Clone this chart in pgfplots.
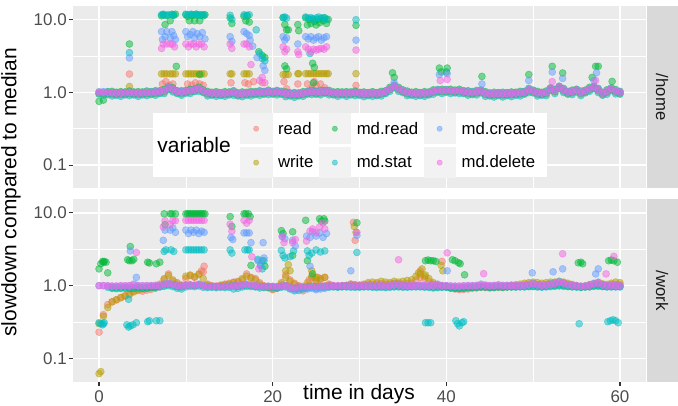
\documentclass[border=0pt]{standalone}
\usepackage{pgfplots}
\pgfplotsset{compat=1.18}
\usepackage{pgfplotstable}
\usepackage{fontspec}
\setmainfont{Liberation Sans}

\definecolor{cRead}{HTML}{F8766D}
\definecolor{cWrite}{HTML}{B79F00}
\definecolor{cMdRead}{HTML}{00BA38}
\definecolor{cMdStat}{HTML}{00BFC4}
\definecolor{cMdCreate}{HTML}{619CFF}
\definecolor{cMdDelete}{HTML}{F564E3}
\definecolor{panelbg}{HTML}{EBEBEB}
\definecolor{stripbg}{HTML}{D9D9D9}
\definecolor{keybg}{HTML}{F2F2F2}
\definecolor{ticktext}{HTML}{4D4D4D}
\definecolor{tickline}{HTML}{333333}
\definecolor{striptext}{HTML}{1A1A1A}

% baseline measurements, one row every half day
\pgfplotstableread{
x rd wr mr ms mc md
0 0.98 0.96 0.75 0.94 1.02 1.00
0.5 0.98 0.96 0.78 0.91 1.02 1.00
1 0.97 0.95 1.02 0.93 1.01 0.99
1.5 0.96 0.94 1.03 0.89 1.00 0.98
2 0.95 0.93 1.00 0.91 0.99 0.97
2.5 0.95 0.93 1.02 0.88 0.99 0.97
3 0.96 0.94 1.01 0.92 1.00 0.98
3.5 0.97 0.95 1.04 0.90 1.01 0.99
4 0.96 0.94 1.01 0.92 1.00 0.98
4.5 0.95 0.93 1.02 0.88 0.99 0.97
5 0.96 0.94 1.01 0.92 1.00 0.98
5.5 0.97 0.95 1.04 0.90 1.01 0.99
6 0.97 0.95 1.02 0.93 1.01 0.99
6.5 0.98 0.96 1.05 0.91 1.02 1.00
7 1.00 0.98 1.05 0.96 1.04 1.02
7.5 1.03 1.01 1.10 0.96 1.07 1.05
8 1.13 1.11 1.18 1.09 1.17 1.15
8.5 1.08 1.06 1.15 1.01 1.12 1.10
9 1.00 0.98 1.05 0.96 1.04 1.02
9.5 0.98 0.96 1.05 0.91 1.02 1.00
10 1.01 0.99 1.06 0.97 1.05 1.03
10.5 1.03 1.01 1.10 0.96 1.07 1.05
11 1.06 1.04 1.11 1.02 1.10 1.08
11.5 1.10 1.08 1.17 1.03 1.14 1.12
12 1.03 1.01 1.08 0.99 1.07 1.05
12.5 0.96 0.94 1.03 0.89 1.00 0.98
13 0.95 0.93 1.00 0.91 0.99 0.97
13.5 0.95 0.93 1.02 0.88 0.99 0.97
14 0.94 0.92 0.99 0.90 0.98 0.96
14.5 0.95 0.93 1.02 0.88 0.99 0.97
15 0.96 0.94 1.01 0.92 1.00 0.98
15.5 0.98 0.96 1.05 0.91 1.02 1.00
16 0.93 0.91 0.98 0.89 0.97 0.95
16.5 0.94 0.92 1.01 0.87 0.98 0.96
17 0.95 0.93 1.00 0.91 0.99 0.97
17.5 0.96 0.94 1.03 0.89 1.00 0.98
18 0.97 0.95 1.02 0.93 1.01 0.99
18.5 0.98 0.96 1.05 0.91 1.02 1.00
19 0.98 0.96 1.03 0.94 1.02 1.00
19.5 1.00 0.98 1.07 0.93 1.04 1.02
20 0.98 0.96 1.03 0.94 1.02 1.00
20.5 0.99 0.97 1.06 0.92 1.03 1.01
21 0.98 0.96 1.03 0.94 1.02 1.00
21.5 0.94 0.92 1.01 0.87 0.98 0.96
22 0.93 0.91 0.98 0.89 0.97 0.95
22.5 0.92 0.90 0.99 0.85 0.96 0.94
23 0.93 0.91 0.98 0.89 0.97 0.95
23.5 0.95 0.93 1.02 0.88 0.99 0.97
24 0.98 0.96 1.03 0.94 1.02 1.00
24.5 1.00 0.98 1.07 0.93 1.04 1.02
25 0.98 0.96 1.03 0.94 1.02 1.00
25.5 0.99 0.97 1.06 0.92 1.03 1.01
26 1.01 0.99 1.06 0.97 1.05 1.03
26.5 0.99 0.97 1.06 0.92 1.03 1.01
27 0.96 0.94 1.01 0.92 1.00 0.98
27.5 0.95 0.93 1.02 0.88 0.99 0.97
28 0.96 0.94 1.01 0.92 1.00 0.98
28.5 0.95 0.93 1.02 0.88 0.99 0.97
29 0.96 0.94 1.01 0.92 1.00 0.98
29.5 0.97 0.95 1.04 0.90 1.01 0.99
30 0.95 0.93 1.00 0.91 0.99 0.97
30.5 0.94 0.92 1.01 0.87 0.98 0.96
31 0.94 0.92 0.99 0.90 0.98 0.96
31.5 0.95 0.93 1.02 0.88 0.99 0.97
32 0.94 0.92 0.99 0.90 0.98 0.96
32.5 0.96 0.94 1.03 0.89 1.00 0.98
33 1.00 0.98 1.05 0.96 1.04 1.02
33.5 1.10 1.08 1.17 1.03 1.14 1.12
34 1.20 1.18 1.25 1.16 1.24 1.22
34.5 1.10 1.08 1.17 1.03 1.14 1.12
35 1.03 1.01 1.08 0.99 1.07 1.05
35.5 0.97 0.95 1.04 0.90 1.01 0.99
36 0.95 0.93 1.00 0.91 0.99 0.97
36.5 0.95 0.93 1.02 0.88 0.99 0.97
37 0.94 0.92 0.99 0.90 0.98 0.96
37.5 0.95 0.93 1.02 0.88 0.99 0.97
38 0.96 0.94 1.01 0.92 1.00 0.98
38.5 1.01 0.99 1.08 0.94 1.05 1.03
39 1.04 1.02 1.09 1.00 1.08 1.06
39.5 1.03 1.01 1.10 0.96 1.07 1.05
40 1.04 1.02 1.09 1.00 1.08 1.06
40.5 1.03 1.01 1.10 0.96 1.07 1.05
41 1.02 1.00 1.07 0.98 1.06 1.04
41.5 1.03 1.01 1.10 0.96 1.07 1.05
42 1.00 0.98 1.05 0.96 1.04 1.02
42.5 0.98 0.96 1.05 0.91 1.02 1.00
43 0.97 0.95 1.02 0.93 1.01 0.99
43.5 0.99 0.97 1.06 0.92 1.03 1.01
44 1.02 1.00 1.07 0.98 1.06 1.04
44.5 0.95 0.93 1.02 0.88 0.99 0.97
45 0.93 0.91 0.98 0.89 0.97 0.95
45.5 0.93 0.91 1.00 0.86 0.97 0.95
46 0.94 0.92 0.99 0.90 0.98 0.96
46.5 0.93 0.91 1.00 0.86 0.97 0.95
47 0.94 0.92 0.99 0.90 0.98 0.96
47.5 0.94 0.92 1.01 0.87 0.98 0.96
48 0.95 0.93 1.00 0.91 0.99 0.97
48.5 0.96 0.94 1.03 0.89 1.00 0.98
49 0.98 0.96 1.03 0.94 1.02 1.00
49.5 1.06 1.04 1.13 0.99 1.10 1.08
50 1.02 1.00 1.07 0.98 1.06 1.04
50.5 0.96 0.94 1.03 0.89 1.00 0.98
51 0.95 0.93 1.00 0.91 0.99 0.97
51.5 0.97 0.95 1.04 0.90 1.01 0.99
52 1.10 1.08 1.15 1.06 1.14 1.12
52.5 1.03 1.01 1.10 0.96 1.07 1.05
53 1.16 1.14 1.21 1.12 1.20 1.18
53.5 1.06 1.04 1.13 0.99 1.10 1.08
54 0.98 0.96 1.03 0.94 1.02 1.00
54.5 1.00 0.98 1.07 0.93 1.04 1.02
55 1.05 1.03 1.10 1.01 1.09 1.07
55.5 0.97 0.95 1.04 0.90 1.01 0.99
56 1.02 1.00 1.07 0.98 1.06 1.04
56.5 1.10 1.08 1.17 1.03 1.14 1.12
57 1.16 1.14 1.21 1.12 1.20 1.18
57.5 1.06 1.04 1.13 0.99 1.10 1.08
58 0.95 0.93 1.00 0.91 0.99 0.97
58.5 1.01 0.99 1.08 0.94 1.05 1.03
59 1.10 1.08 1.15 1.06 1.14 1.12
59.5 1.02 1.00 1.09 0.95 1.06 1.04
60 0.98 0.96 1.03 0.94 1.02 1.00
}\tabHome

\pgfplotstableread{
x rd wr mr ms mc md
0 0.23 0.30 1.70 0.31 1.00 1.00
0.5 0.40 0.38 2.10 0.30 1.00 1.00
1 0.55 0.50 1.50 0.95 0.99 1.00
1.5 0.60 0.60 0.92 0.94 0.98 0.99
2 0.64 0.64 0.91 0.94 0.98 0.99
2.5 0.68 0.69 0.92 0.93 0.99 1.00
3 0.73 0.72 0.92 0.94 0.99 1.00
3.5 0.78 0.75 0.91 0.93 1.00 1.00
4 0.84 0.82 0.92 0.94 1.05 1.01
4.5 0.86 0.88 0.93 0.95 1.00 1.00
5 0.84 0.90 0.92 0.94 0.99 1.00
5.5 0.87 0.92 0.93 0.95 1.00 1.00
6 0.89 0.95 0.94 0.96 1.00 1.00
6.5 0.92 0.97 0.95 0.95 1.01 1.00
7 1.00 1.05 0.97 0.96 1.00 1.00
7.5 1.20 1.25 1.02 0.98 1.05 1.04
8 1.45 1.38 1.05 1.00 1.08 1.06
8.5 1.15 1.20 1.02 0.97 1.04 1.03
9 1.05 1.10 0.97 0.92 1.00 1.00
9.5 1.00 1.02 0.96 0.90 0.99 0.99
10 1.25 1.35 1.00 0.96 1.02 1.01
10.5 1.38 1.40 1.02 0.98 1.03 1.02
11 1.30 1.32 1.00 0.97 1.02 1.01
11.5 1.42 1.45 1.03 0.99 1.05 1.03
12 1.55 1.25 1.00 0.95 1.00 1.00
12.5 1.05 1.02 0.97 0.94 0.98 0.97
13 1.00 0.98 0.97 0.95 0.98 0.97
13.5 0.99 0.97 0.96 0.94 0.97 0.97
14 1.02 1.00 0.97 0.95 0.98 0.97
14.5 1.05 1.03 0.97 0.94 0.98 0.98
15 1.08 1.05 0.98 0.95 0.99 0.98
15.5 1.12 1.10 0.99 0.90 1.00 0.99
16 1.15 1.12 0.98 0.92 1.00 1.00
16.5 1.20 1.25 1.00 0.96 1.02 1.02
17 1.45 1.35 1.02 0.98 1.05 1.04
17.5 1.30 1.28 1.00 0.97 1.02 1.02
18 1.25 1.20 0.98 0.96 1.00 1.00
18.5 1.10 1.05 0.97 0.93 0.98 0.98
19 1.00 0.98 0.96 0.94 0.97 0.97
19.5 0.95 0.93 0.97 0.95 0.98 0.98
20 0.88 0.90 0.97 0.94 0.97 0.98
20.5 0.93 0.92 0.96 0.93 0.96 0.97
21 1.05 1.10 0.98 0.95 0.98 0.99
21.5 1.40 1.30 1.00 0.96 1.00 1.00
22 1.20 1.15 0.95 0.90 0.92 0.95
22.5 1.08 1.05 0.92 0.85 0.88 0.93
23 1.00 0.98 0.93 0.86 0.90 0.96
23.5 0.85 0.95 0.95 0.90 0.94 0.98
24 1.00 1.10 0.96 0.93 0.90 0.97
24.5 1.28 1.35 0.98 0.95 0.92 0.98
25 1.15 1.20 0.97 0.92 0.88 0.97
25.5 1.20 1.25 0.98 0.94 0.90 0.98
26 1.30 1.30 0.99 0.95 0.92 0.99
26.5 1.05 1.02 0.98 0.95 0.98 1.00
27 1.00 0.98 0.98 0.96 0.99 1.00
27.5 0.98 0.97 0.97 0.95 0.99 1.00
28 1.00 0.98 0.98 0.96 1.00 1.00
28.5 1.01 1.00 0.98 0.96 1.00 1.00
29 1.05 1.05 0.98 0.95 1.00 1.00
29.5 1.02 1.03 0.97 0.95 0.99 1.00
30 1.00 1.02 0.97 0.95 0.99 1.00
30.5 1.02 1.05 0.97 0.96 0.99 1.00
31 1.05 1.10 0.98 0.96 1.00 1.00
31.5 1.04 1.12 0.97 0.95 0.99 1.00
32 1.05 1.10 0.97 0.94 0.99 1.00
32.5 1.06 1.15 0.97 0.95 1.00 1.00
33 1.04 1.12 0.96 0.94 0.98 0.99
33.5 1.05 1.10 0.97 0.95 1.00 1.00
34 1.08 1.15 0.98 0.96 1.05 1.02
34.5 1.06 1.12 0.98 0.96 1.04 1.02
35 1.05 1.15 0.97 0.95 1.01 1.00
35.5 1.06 1.18 0.97 0.95 1.00 1.00
36 1.08 1.20 0.97 0.96 1.00 1.00
36.5 1.20 1.35 0.98 0.96 1.00 1.00
37 1.30 1.45 0.98 0.96 1.02 1.01
37.5 1.25 1.35 0.97 0.95 1.00 1.00
38 1.15 1.25 0.96 0.95 1.00 1.00
38.5 1.05 1.10 0.95 0.93 1.02 1.00
39 1.00 1.02 0.96 0.94 1.05 1.01
39.5 0.98 1.00 0.96 0.95 1.00 1.00
40 0.96 0.98 0.96 0.95 1.00 1.00
40.5 0.93 0.95 0.93 0.93 0.99 0.99
41 0.90 0.93 0.92 0.94 0.98 0.99
41.5 0.88 0.92 0.92 0.93 0.98 0.99
42 0.89 0.92 0.93 0.94 0.99 1.00
42.5 0.90 0.94 0.94 0.95 1.00 1.00
43 0.92 0.95 0.95 0.95 1.00 1.00
43.5 0.93 0.96 0.95 0.95 1.01 1.00
44 0.95 0.98 0.96 0.96 1.05 1.02
44.5 0.94 0.97 0.96 0.96 1.02 1.01
45 0.93 0.95 0.95 0.95 1.00 1.00
45.5 0.94 0.96 0.95 0.95 1.01 1.00
46 0.95 0.98 0.96 0.96 1.03 1.01
46.5 0.94 0.97 0.95 0.96 1.01 1.00
47 0.96 0.99 0.96 0.96 1.01 1.00
47.5 0.97 1.02 0.96 0.96 1.00 1.00
48 0.98 1.03 0.96 0.96 1.00 1.00
48.5 1.00 1.05 0.97 0.96 1.00 1.00
49 1.02 1.08 0.97 0.96 1.01 1.01
49.5 1.04 1.10 0.98 0.97 1.04 1.03
50 1.05 1.12 0.98 0.97 1.08 1.05
50.5 1.03 1.10 0.97 0.96 1.03 1.02
51 1.02 1.08 0.97 0.95 1.01 1.01
51.5 1.03 1.10 0.98 0.96 1.02 1.01
52 1.05 1.12 0.99 0.97 1.06 1.03
52.5 1.06 1.12 1.00 0.98 1.10 1.06
53 1.08 1.15 1.02 0.99 1.14 1.10
53.5 1.06 1.12 1.00 0.98 1.10 1.08
54 1.03 1.08 0.98 0.97 1.04 1.03
54.5 1.00 1.04 0.97 0.96 1.02 1.01
55 0.98 1.00 0.96 0.96 1.00 1.00
55.5 0.96 0.98 0.95 0.95 0.98 0.98
56 0.97 0.99 0.96 0.96 0.99 0.99
56.5 1.00 1.03 0.97 0.96 1.03 1.01
57 1.03 1.06 0.99 0.98 1.08 1.05
57.5 1.05 1.10 1.00 0.98 1.12 1.08
58 1.02 1.06 0.98 0.97 1.03 1.02
58.5 1.00 1.04 0.97 0.96 1.01 1.00
59 1.02 1.08 0.97 0.96 1.02 1.01
59.5 1.04 1.12 0.97 0.96 1.01 1.00
60 1.03 1.10 0.97 0.96 1.00 1.00
}\tabWork

\pgfplotsset{
  mypt/.style={only marks, mark=*, mark size=3.5bp, color=#1,
    mark options={opacity=0.5, line width=0.6bp}},
  mykey/.style={legend image code/.code={
    \fill[keybg, opacity=1] (-15.75bp,-15bp) rectangle (15.75bp,15bp);
    \draw[mark size=2.6bp] plot coordinates {(0bp,0bp)};}},
  mypanel/.style={
    scale only axis, width=573bp, height=182.3bp,
    xmin=-3, xmax=63, ymin=0.048, ymax=15.3,
    clip=false,
    axis line style={draw=none},
    axis background/.style={fill=panelbg},
    grid=both,
    major grid style={white, line width=1.4bp},
    minor grid style={white, line width=0.7bp},
    xtick={0,20,40,60}, xticklabels={0,20,40,60},
    minor xtick={10,30,50},
    ytick={0.1,1,10}, yticklabels={0.1,1.0,10.0},
    minor ytick={0.316228,3.16228},
    tick pos=left, tick align=outside,
    major tick length=4.5bp, minor tick length=0pt,
    tick style={tickline, line width=1.1bp},
    ticklabel style={font=\fontsize{17}{19}\selectfont, text=ticktext},
    yticklabel style={inner xsep=0pt, xshift=-1.6bp},
    xticklabel style={inner ysep=0pt, yshift=-4bp},
  },
}

\begin{document}
\begin{tikzpicture}
\useasboundingbox (0,0) rectangle (678bp,406bp);

% /home panel
\begin{axis}[ymode=log, mypanel, at={(73bp,217.7bp)}, anchor=south west,
  xmajorticks=false,
  legend columns=3,
  legend cell align=left,
  legend style={at={(axis description cs:0.2914,0.4114)}, anchor=north west,
    draw=none, fill=none, inner sep=0pt, row sep=3.5bp,
    font=\fontsize{16.8}{18}\selectfont,
    nodes={inner sep=0pt},
    /tikz/every odd column/.append style={column sep=6bp},
    /tikz/every even column/.append style={column sep=5.5bp}},
]
\addplot[mypt=cRead, forget plot] table[x=x, y=rd] {\tabHome};
\addplot[mypt=cRead, forget plot] coordinates {(3.5,1.78) (7.3,1.3) (7.7,1.4) (8.1,1.25) (8.5,1.3) (10.2,1.3) (10.7,1.25) (11.1,1.35) (11.6,1.3) (12.0,1.25) (15.2,1.35) (16.8,1.35) (17.2,1.3) (17.8,1.4) (18.8,1.35) (21.3,1.4) (21.6,1.12) (22.9,1.3) (24.0,1.3) (24.5,1.15) (24.8,1.4) (25.0,1.25) (25.5,1.3) (26.0,1.15) (29.6,1.24)};
\addplot[mypt=cWrite, forget plot] table[x=x, y=wr] {\tabHome};
\addplot[mypt=cWrite, forget plot] coordinates {(3.5,1.2) (7.2,1.79) (7.5,1.79) (7.8,1.79) (8.2,1.79) (8.5,1.79) (8.8,1.79) (10.0,1.79) (10.3,1.79) (10.6,1.79) (10.9,1.79) (11.2,1.79) (11.5,1.79) (11.8,1.79) (12.1,1.79) (15.1,1.79) (15.3,1.79) (16.7,1.79) (17.0,1.79) (17.3,1.79) (21.2,1.75) (21.5,1.75) (21.8,1.75) (22.9,1.8) (23.0,1.8) (23.8,1.8) (24.1,1.8) (24.4,1.8) (24.7,1.8) (25.0,1.8) (25.3,1.8) (25.6,1.8) (25.9,1.8) (26.2,1.8) (26.4,1.8) (29.6,1.8)};
\addplot[mypt=cMdRead, forget plot] table[x=x, y=mr] {\tabHome};
\addplot[mypt=cMdRead, forget plot] coordinates {(3.5,4.6) (7.2,11.2) (7.4,11.6) (7.6,8.5) (7.8,11.4) (8.2,9.6) (8.4,11.6) (8.6,11.5) (8.8,11.8) (8.9,2.27) (10.0,11.6) (10.2,11.0) (10.4,9.6) (10.6,11.6) (10.8,11.4) (11.0,9.6) (11.2,11.8) (11.4,11.4) (11.6,9.6) (11.8,11.6) (12.0,11.2) (12.2,11.6) (11.6,1.75) (15.1,10.5) (15.3,8.8) (16.7,11.0) (16.9,9.6) (17.1,11.2) (17.3,9.2) (18.4,3.6) (18.8,3.2) (19.1,3.0) (21.2,10.6) (21.4,8.5) (21.6,7.2) (21.8,7.2) (21.4,2.3) (21.6,2.1) (22.9,8.5) (23.0,7.0) (23.8,10.5) (24.0,8.4) (24.2,10.0) (24.4,8.8) (24.6,10.2) (24.8,9.4) (25.0,8.4) (25.2,10.0) (25.4,9.0) (25.6,10.4) (25.8,9.6) (26.0,10.5) (26.2,8.8) (26.4,10.0) (24.6,2.5) (24.8,2.2) (24.7,1.35) (29.6,8.3) (33.8,1.85) (34.0,1.6) (39.2,2.15) (39.4,1.9) (40.0,1.9) (40.1,2.15) (44.1,1.65) (49.5,1.75) (52.2,2.27) (53.4,1.84) (56.8,1.6) (57.2,2.27) (57.5,2.27) (59.1,1.41)};
\addplot[mypt=cMdStat, forget plot] table[x=x, y=ms] {\tabHome};
\addplot[mypt=cMdStat, forget plot] coordinates {(3.5,3.5) (7.2,11.6) (7.4,11.8) (7.6,11.4) (8.0,11.6) (8.4,11.8) (8.6,11.4) (10.0,11.8) (10.3,11.6) (10.6,11.8) (10.9,11.6) (11.2,11.8) (11.5,11.6) (11.8,11.4) (12.1,11.6) (15.1,11.4) (15.3,10.0) (16.7,11.6) (17.0,11.4) (17.3,11.6) (18.1,7.2) (18.5,3.4) (18.8,2.9) (19.1,2.7) (21.2,10.6) (21.4,10.8) (21.6,10.4) (23.8,10.8) (24.1,10.4) (24.4,10.6) (24.7,10.0) (25.0,10.5) (25.3,10.8) (25.6,10.2) (25.9,10.6) (26.2,10.0) (24.3,3.4) (29.6,9.9)};
\addplot[mypt=cMdCreate, forget plot] table[x=x, y=mc] {\tabHome};
\addplot[mypt=cMdCreate, forget plot] coordinates {(3.5,2.96) (7.2,6.8) (7.3,5.3) (7.6,5.8) (7.8,6.8) (8.2,5.6) (8.4,6.8) (8.6,6.0) (8.8,5.3) (10.0,6.8) (10.2,5.8) (10.5,6.2) (10.8,6.8) (11.0,5.6) (11.3,6.4) (11.6,5.8) (11.9,6.6) (12.2,5.4) (15.1,5.8) (15.3,5.0) (16.7,6.8) (17.0,6.4) (17.3,6.0) (17.4,5.2) (17.7,4.3) (18.2,3.0) (18.9,2.3) (19.1,2.0) (21.2,5.8) (21.4,5.2) (21.6,5.6) (22.9,4.6) (23.8,5.8) (24.1,5.4) (24.4,5.8) (24.7,5.2) (25.0,5.6) (25.3,5.8) (25.6,5.2) (25.9,5.6) (26.2,5.8) (29.6,5.2) (34.0,1.35) (39.2,1.75) (40.1,1.8) (44.1,1.3) (49.5,1.45) (52.2,1.9) (53.4,1.55) (57.0,1.45) (57.3,1.85)};
\addplot[mypt=cMdDelete, forget plot] table[x=x, y=md] {\tabHome};
\addplot[mypt=cMdDelete, forget plot] coordinates {(7.2,4.0) (7.4,4.6) (7.8,4.6) (8.2,4.6) (8.5,4.6) (8.7,4.2) (10.0,4.6) (10.3,4.2) (10.6,4.6) (10.9,4.6) (11.2,4.2) (11.5,4.6) (11.8,4.6) (12.1,4.2) (15.1,4.6) (15.3,4.0) (16.7,4.6) (17.0,4.6) (17.3,4.2) (17.5,2.4) (18.5,1.45) (18.8,1.6) (19.1,1.35) (21.2,4.2) (21.4,3.6) (21.6,3.9) (22.9,3.6) (23.0,3.3) (23.8,4.2) (24.1,3.9) (24.4,3.6) (24.7,3.9) (25.0,3.8) (25.3,3.9) (25.6,4.0) (25.9,3.9) (26.2,4.2) (29.6,3.8) (39.3,1.45) (40.1,1.5) (52.2,1.4) (57.2,1.45)};

% strip and legend box
\fill[stripbg] ([xshift=0.5bp]rel axis cs:1,0) rectangle ([xshift=32bp]rel axis cs:1,1);
\node[rotate=-90, inner sep=0pt, font=\fontsize{16.8}{18}\selectfont, text=striptext] at ([xshift=16bp]rel axis cs:1,0.5) {/home};
\fill[white] (axis description cs:0.1391,0.0603) rectangle (axis description cs:0.8272,0.4114);
\node[anchor=west, inner sep=0pt, font=\fontsize{21}{24}\selectfont] at (axis description cs:0.1471,0.2375) {variable};

\addlegendimage{mypt=cRead, mykey}\addlegendentry{read}
\addlegendimage{mypt=cMdRead, mykey}\addlegendentry{md.read}
\addlegendimage{mypt=cMdCreate, mykey}\addlegendentry{md.create}
\addlegendimage{mypt=cWrite, mykey}\addlegendentry{write}
\addlegendimage{mypt=cMdStat, mykey}\addlegendentry{md.stat}
\addlegendimage{mypt=cMdDelete, mykey}\addlegendentry{md.delete}
\end{axis}

% /work panel
\begin{axis}[ymode=log, mypanel, at={(73bp,24.3bp)}, anchor=south west]
\addplot[mypt=cRead, forget plot] table[x=x, y=rd] {\tabWork};
\addplot[mypt=cRead, forget plot] coordinates {(11.8,1.6) (12.1,1.85) (24.2,1.2) (25.2,1.3) (29.3,7.4) (29.5,4.2) (37.0,1.6) (39.5,2.15)};
\addplot[mypt=cWrite, forget plot] table[x=x, y=wr] {\tabWork};
\addplot[mypt=cWrite, forget plot] coordinates {(0.0,0.062) (0.2,0.066) (21.5,1.6) (21.8,1.94) (22.0,1.6) (24.5,1.6) (25.0,1.3) (29.4,6.5) (29.6,5.4) (36.8,1.5) (37.2,1.7) (37.6,1.4) (39.4,1.9) (39.6,1.6)};
\addplot[mypt=cMdRead, forget plot] table[x=x, y=mr] {\tabWork};
\addplot[mypt=cMdRead, forget plot] coordinates {(0.2,2.0) (0.4,2.15) (0.6,2.15) (0.8,2.1) (3.3,2.27) (3.5,2.2) (3.6,3.45) (3.8,2.2) (4.0,2.3) (5.6,2.1) (5.8,2.05) (6.6,2.0) (7.0,2.1) (7.5,9.7) (7.6,6.9) (8.2,9.7) (8.4,9.7) (8.8,9.7) (10.0,9.7) (10.2,9.7) (10.4,9.7) (10.6,9.7) (10.8,9.7) (11.0,9.7) (11.2,9.7) (11.4,9.7) (11.6,9.7) (11.8,9.7) (12.0,9.7) (12.2,9.7) (15.1,8.9) (15.3,6.5) (16.7,9.7) (16.9,9.7) (17.2,9.7) (17.4,8.9) (17.5,1.9) (18.8,2.2) (19.1,1.85) (21.0,5.7) (21.2,5.2) (22.3,5.5) (22.3,2.6) (23.8,7.9) (24.0,2.2) (24.6,1.45) (25.4,8.3) (25.6,7.7) (25.9,8.3) (26.0,7.7) (29.7,7.3) (37.6,2.2) (37.9,2.25) (38.2,2.2) (38.5,2.2) (38.8,2.15) (40.7,2.27) (41.0,2.2) (41.4,2.07) (41.6,2.0) (42.1,1.41) (55.2,2.06) (55.5,2.1) (55.7,2.0) (58.7,2.2) (59.0,2.25) (59.3,2.2) (59.7,2.1)};
\addplot[mypt=cMdStat, forget plot] table[x=x, y=ms] {\tabWork};
\addplot[mypt=cMdStat, forget plot] coordinates {(0.2,0.30) (0.4,0.29) (0.6,0.31) (3.2,0.29) (3.4,0.27) (3.6,0.28) (3.9,0.29) (4.3,0.31) (3.4,0.65) (5.6,0.32) (5.8,0.33) (6.6,0.33) (7.0,0.33) (7.5,2.95) (7.7,3.1) (8.3,3.1) (8.6,2.95) (10.0,3.1) (10.3,3.1) (10.6,3.1) (10.9,3.1) (11.2,3.1) (11.5,3.1) (11.8,3.1) (12.1,3.1) (15.1,3.1) (15.3,2.8) (16.8,3.1) (17.1,3.1) (17.3,3.1) (18.3,2.3) (18.6,1.9) (18.8,1.7) (19.0,2.2) (21.0,3.05) (21.2,2.6) (21.4,2.4) (22.0,2.5) (22.4,3.0) (24.0,3.0) (24.2,2.6) (24.5,2.8) (25.0,3.1) (25.5,2.9) (26.0,3.0) (29.7,2.86) (37.6,0.31) (37.9,0.31) (38.2,0.31) (41.1,0.33) (41.3,0.30) (41.5,0.28) (41.8,0.31) (42.0,0.32) (55.3,0.30) (58.6,0.32) (58.9,0.33) (59.2,0.34) (59.5,0.33) (59.8,0.31)};
\addplot[mypt=cMdCreate, forget plot] table[x=x, y=mc] {\tabWork};
\addplot[mypt=cMdCreate, forget plot] coordinates {(3.6,3.0) (4.3,1.3) (7.4,4.2) (7.6,5.8) (8.2,5.8) (8.5,6.2) (8.8,5.4) (10.0,5.8) (10.3,5.2) (10.6,5.8) (10.9,5.4) (11.2,5.8) (11.5,5.2) (11.8,5.6) (12.1,5.4) (15.2,4.6) (15.4,4.3) (16.7,5.3) (17.0,5.3) (17.3,5.3) (17.5,3.9) (18.3,2.2) (18.6,1.9) (18.9,3.9) (19.0,2.4) (21.1,4.8) (21.4,4.4) (22.3,4.2) (22.6,3.5) (23.9,4.8) (24.3,4.6) (24.3,1.85) (24.6,5.5) (25.0,4.8) (25.4,5.3) (25.8,4.6) (26.2,5.2) (29.0,1.6) (29.7,4.9) (40.1,1.6) (49.9,1.5) (52.3,1.55) (53.4,1.7) (57.2,1.45) (57.5,1.7)};
\addplot[mypt=cMdDelete, forget plot] table[x=x, y=md] {\tabWork};
\addplot[mypt=cMdDelete, forget plot] coordinates {(4.3,2.86) (7.4,6.4) (7.6,7.8) (8.2,6.9) (8.5,7.8) (8.8,7.8) (10.0,7.9) (10.3,7.9) (10.6,7.9) (10.9,7.9) (11.2,7.9) (11.5,7.9) (11.8,7.9) (12.1,7.9) (15.1,7.0) (15.3,5.6) (16.7,7.9) (17.0,7.2) (17.3,7.9) (17.6,2.5) (18.4,1.7) (21.1,4.7) (21.3,3.9) (22.3,3.9) (22.6,4.3) (23.9,4.1) (24.3,5.6) (24.6,6.0) (25.0,5.3) (25.4,6.4) (25.8,7.3) (26.0,6.0) (29.7,5.4) (34.5,2.27) (40.1,2.83) (44.3,1.46) (53.4,2.74) (58.4,1.45) (59.3,2.52)};

\fill[stripbg] ([xshift=0.5bp]rel axis cs:1,0) rectangle ([xshift=32bp]rel axis cs:1,1);
\node[rotate=-90, inner sep=0pt, font=\fontsize{16.8}{18}\selectfont, text=striptext] at ([xshift=16bp]rel axis cs:1,0.5) {/work};
\end{axis}

% axis titles
\node[rotate=90, anchor=north, inner sep=0pt, font=\fontsize{21}{24}\selectfont] at (1bp,213.5bp) {slowdown compared to median};
\node[anchor=base, inner sep=0pt, font=\fontsize{21}{24}\selectfont] at (359bp,7bp) {time in days};
\end{tikzpicture}
\end{document}
